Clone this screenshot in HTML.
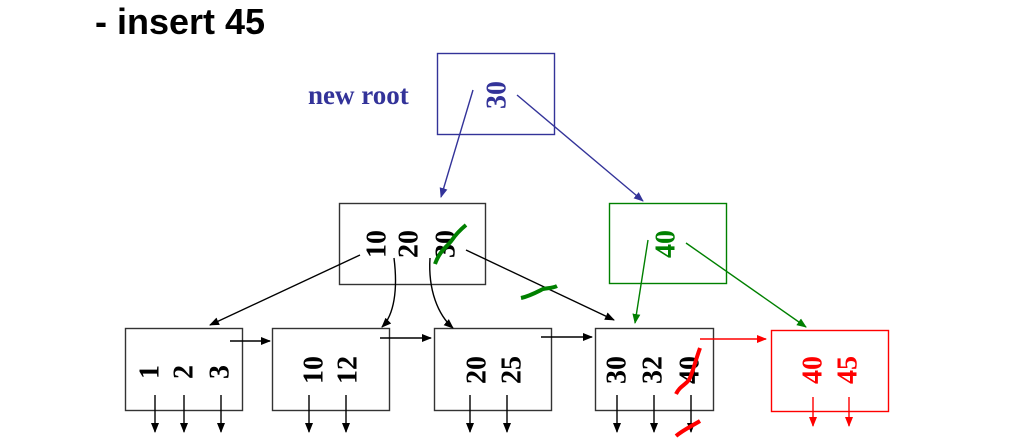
<!DOCTYPE html>
<html><head><meta charset="utf-8"><style>
html,body{margin:0;padding:0;background:#fff;width:1032px;height:438px;overflow:hidden}
svg{display:block}
.t{font-family:"Liberation Serif",serif;font-weight:bold;font-size:28px}
</style></head><body>
<svg width="1032" height="438" viewBox="0 0 1032 438" xmlns="http://www.w3.org/2000/svg">
<defs>
<marker id="ak" markerWidth="10" markerHeight="10" refX="9" refY="5" orient="auto" markerUnits="userSpaceOnUse"><path d="M0,1 L10,5 L0,9z" fill="#000"/></marker>
<marker id="ab" markerWidth="10" markerHeight="10" refX="9" refY="5" orient="auto" markerUnits="userSpaceOnUse"><path d="M0,1 L10,5 L0,9z" fill="#333399"/></marker>
<marker id="ag" markerWidth="10" markerHeight="10" refX="9" refY="5" orient="auto" markerUnits="userSpaceOnUse"><path d="M0,1 L10,5 L0,9z" fill="#008000"/></marker>
<marker id="ar" markerWidth="10" markerHeight="10" refX="9" refY="5" orient="auto" markerUnits="userSpaceOnUse"><path d="M0,1 L10,5 L0,9z" fill="#ff0000"/></marker>
</defs>
<text x="95" y="34" font-family="Liberation Sans,sans-serif" font-weight="bold" font-size="36">- insert 45</text>
<text x="308" y="104" font-family="Liberation Serif,serif" font-weight="bold" fill="#333399" font-size="27">new root</text>

<g fill="none" stroke-width="1.4">
<rect x="437.5" y="53.5" width="117" height="81" stroke="#333399"/>
<rect x="339.5" y="203.5" width="146" height="81" stroke="#333"/>
<rect x="609.5" y="203.5" width="117" height="80" stroke="#008000"/>
<rect x="125.5" y="328.5" width="117" height="82" stroke="#333"/>
<rect x="272.5" y="328.5" width="117" height="82" stroke="#333"/>
<rect x="434.5" y="328.5" width="117" height="82" stroke="#333"/>
<rect x="595.5" y="328.5" width="118" height="82" stroke="#333"/>
<rect x="771.5" y="330.5" width="117" height="81" stroke="#ff0000"/>
</g>

<g class="t" text-anchor="middle" dominant-baseline="central">
<text transform="translate(497,95) rotate(-90)" fill="#333399">30</text>
<text transform="translate(377,244) rotate(-90)">10</text>
<text transform="translate(409,244) rotate(-90)">20</text>
<text transform="translate(446,244) rotate(-90)">30</text>
<text transform="translate(666,244) rotate(-90)" fill="#008000">40</text>
<text transform="translate(150,372) rotate(-90)">1</text>
<text transform="translate(184,372) rotate(-90)">2</text>
<text transform="translate(220,372) rotate(-90)">3</text>
<text transform="translate(314,370) rotate(-90)">10</text>
<text transform="translate(348,370) rotate(-90)">12</text>
<text transform="translate(477,370) rotate(-90)">20</text>
<text transform="translate(512,370) rotate(-90)">25</text>
<text transform="translate(617,370) rotate(-90)">30</text>
<text transform="translate(653,370) rotate(-90)">32</text>
<text transform="translate(690,370) rotate(-90)">40</text>
<text transform="translate(813,370) rotate(-90)" fill="#ff0000">40</text>
<text transform="translate(848,370) rotate(-90)" fill="#ff0000">45</text>
</g>

<g fill="none" stroke-width="1.4">
<line x1="473" y1="90" x2="441" y2="197" stroke="#333399" marker-end="url(#ab)"/>
<line x1="517" y1="95" x2="643" y2="201" stroke="#333399" marker-end="url(#ab)"/>
<line x1="360" y1="255" x2="210" y2="325" stroke="#000" marker-end="url(#ak)"/>
<path d="M394,258 C398,290 394,315 382,327" stroke="#000" marker-end="url(#ak)"/>
<path d="M430,258 C428,290 438,315 453,328" stroke="#000" marker-end="url(#ak)"/>
<line x1="466" y1="250" x2="614" y2="320" stroke="#000" marker-end="url(#ak)"/>
<line x1="648" y1="240" x2="635" y2="323" stroke="#008000" marker-end="url(#ag)"/>
<line x1="686" y1="243" x2="806" y2="327" stroke="#008000" marker-end="url(#ag)"/>
<line x1="230" y1="341" x2="270" y2="341" stroke="#000" marker-end="url(#ak)"/>
<line x1="380" y1="338" x2="431" y2="338" stroke="#000" marker-end="url(#ak)"/>
<line x1="541" y1="337" x2="592" y2="337" stroke="#000" marker-end="url(#ak)"/>
<line x1="700" y1="339" x2="766" y2="339" stroke="#ff0000" marker-end="url(#ar)"/>
<g stroke="#000" marker-end="url(#ak)">
<line x1="155" y1="395" x2="155" y2="432"/><line x1="184" y1="395" x2="184" y2="432"/><line x1="221" y1="395" x2="221" y2="432"/>
<line x1="309" y1="395" x2="309" y2="432"/><line x1="346" y1="395" x2="346" y2="432"/>
<line x1="470" y1="395" x2="470" y2="432"/><line x1="507" y1="395" x2="507" y2="432"/>
<line x1="617" y1="395" x2="617" y2="432"/><line x1="654" y1="395" x2="654" y2="432"/><line x1="691" y1="395" x2="691" y2="432"/>
</g>
<g stroke="#ff0000" marker-end="url(#ar)">
<line x1="813" y1="397" x2="813" y2="426"/><line x1="849" y1="397" x2="849" y2="426"/>
</g>
<path d="M435,264 C440,250 447,247 452,240 C456,234 460,230 466,225" stroke="#008000" stroke-width="4"/>
<path d="M521,298 C530,296 537,292 543,289 C548,288 553,288 557,286" stroke="#008000" stroke-width="4"/>
<path d="M676,394 C680,386 684,386 689,380 C693,372 694,365 700,348" stroke="#ff0000" stroke-width="4"/>
<path d="M676,436 C683,430 690,427 700,421" stroke="#ff0000" stroke-width="4"/>
</g>
</svg>
</body></html>
